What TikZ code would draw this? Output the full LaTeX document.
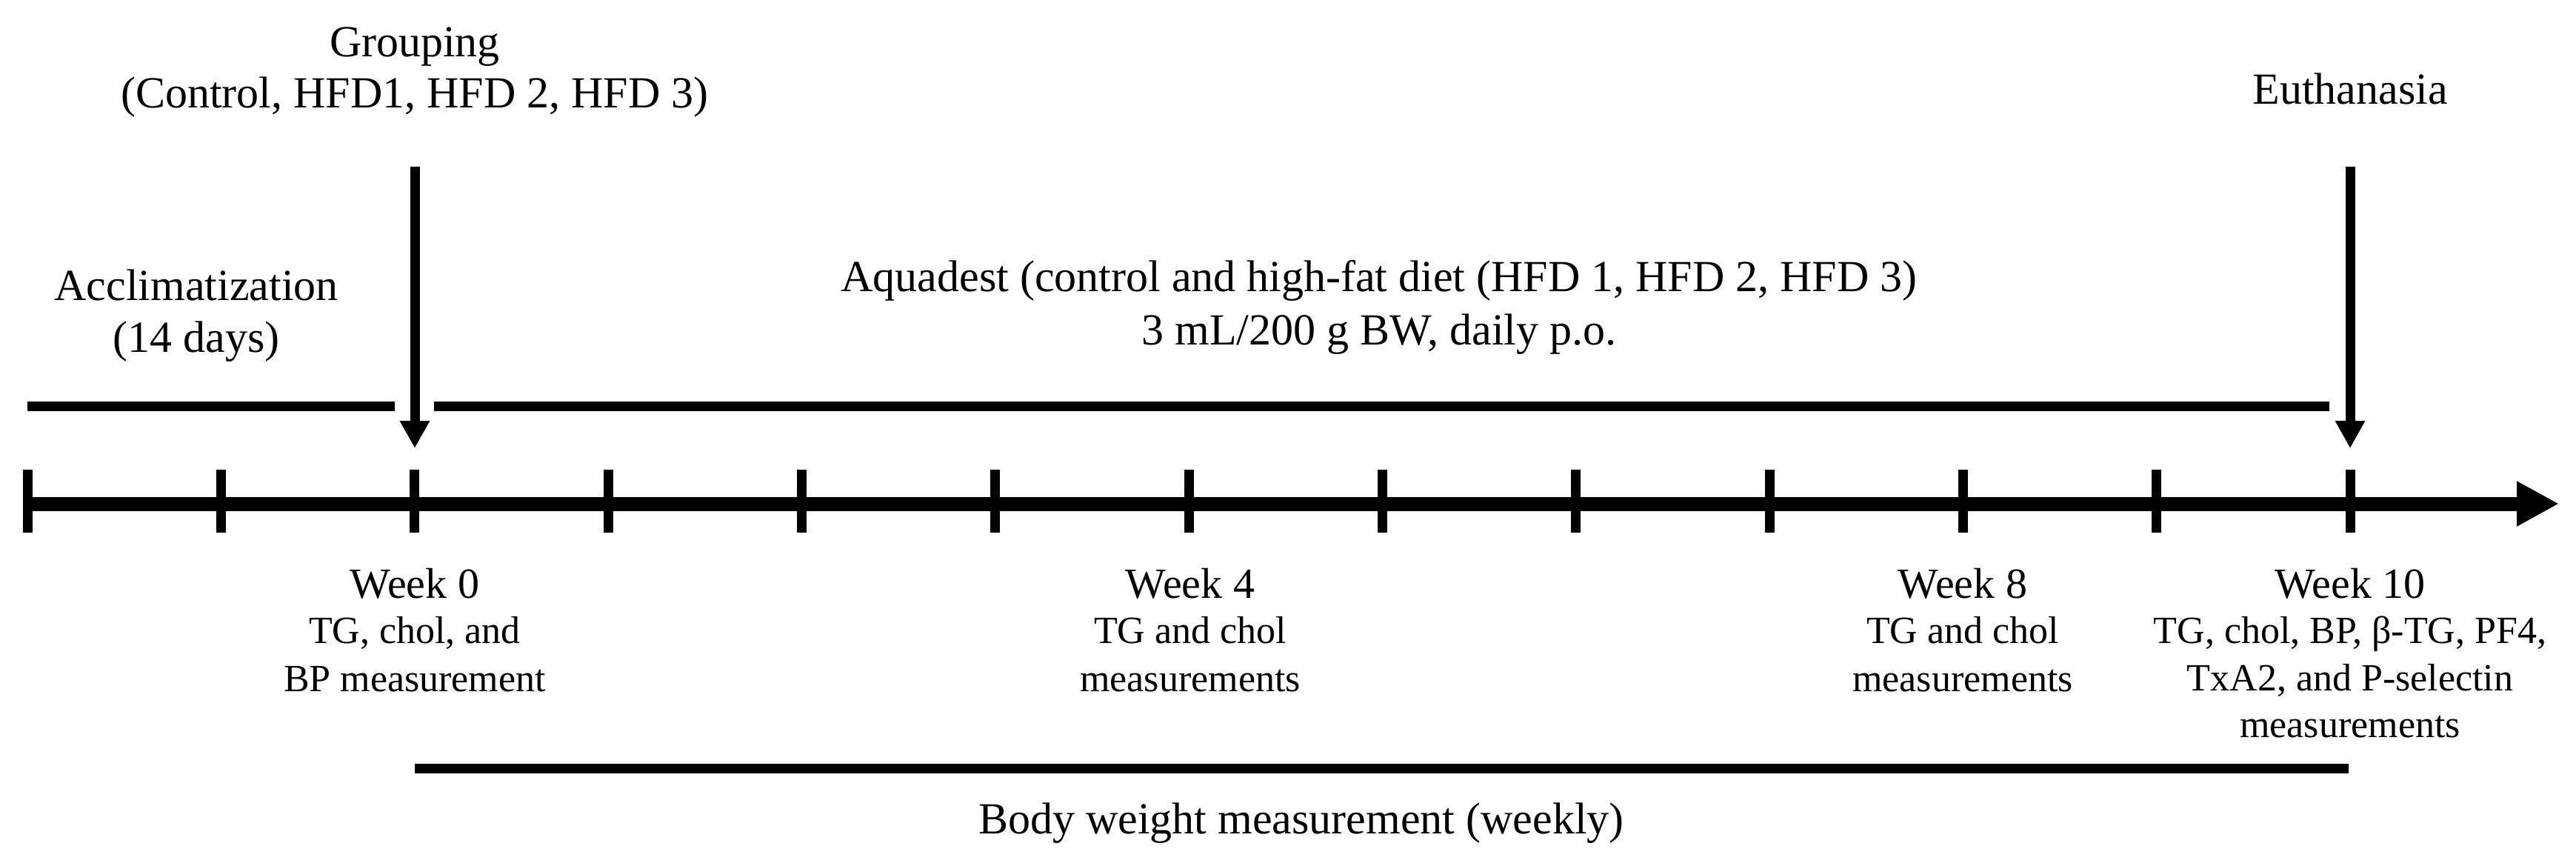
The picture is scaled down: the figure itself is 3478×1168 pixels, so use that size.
\documentclass[tikz,border=0pt]{standalone}
\usepackage{fontspec}
\setmainfont{Liberation Serif}
\usetikzlibrary{arrows.meta}
\begin{document}
\begin{tikzpicture}[x=0.25pt,y=-0.25pt,
  big/.style={font=\fontsize{15}{18}\selectfont, inner sep=0pt, anchor=base},
  wk/.style={font=\fontsize{14.5}{17}\selectfont, inner sep=0pt, anchor=base},
  small/.style={font=\fontsize{13}{15}\selectfont, inner sep=0pt, anchor=base},
  bar/.style={line width=3.25pt},
  tickmark/.style={line width=3.25pt},
  axisline/.style={line width=4.75pt, -{Triangle[length=14.25pt,width=14.25pt]}},
  downarrow/.style={line width=3.25pt, -{Triangle[length=9.25pt,width=9.5pt]}}]
\useasboundingbox (0,0) rectangle (3478,1168);

% axis
\coordinate (axL) at (37,680);
\coordinate (axR) at (3455,680);
\draw[axisline] (axL) -- (axR);
\foreach \k in {0,...,12}{
  \coordinate (t\k) at ({37+\k*261.33},680);
  \draw[tickmark] ([yshift=11.5pt]t\k) -- ([yshift=-9.75pt]t\k);
}

% phase bars
\coordinate (accL) at (37,548);
\coordinate (accR) at (533,548);
\coordinate (aqL) at (586,548);
\coordinate (aqR) at (3145,548);
\draw[bar] (accL) -- (accR);
\draw[bar] (aqL) -- (aqR);
\coordinate (bwL) at (560,1037);
\coordinate (bwR) at (3171,1037);
\draw[bar] (bwL) -- (bwR);

% event arrows
\coordinate (grpTop) at (560,225);
\coordinate (grpTip) at (560,605);
\coordinate (euTop) at (3173,225);
\coordinate (euTip) at (3173,605);
\draw[downarrow] (grpTop) -- (grpTip);
\draw[downarrow] (euTop) -- (euTip);

% top labels
\node[big] (grp1) at (560,76) {Grouping};
\node[big] (grp2) at (560,145) {(Control, HFD1, HFD 2, HFD 3)};
\node[big] (eu) at (3173,140) {Euthanasia};
\node[big] (acc1) at (265,405) {Acclimatization};
\node[big] (acc2) at (265,475) {(14 days)};
\node[big] (aq1) at (1862,393) {Aquadest (control and high-fat diet (HFD 1, HFD 2, HFD 3)};
\node[big] (aq2) at (1862,465) {3 mL/200 g BW, daily p.o.};

% week labels
\node[wk] (w0) at (560,807) {Week 0};
\node[small] (w0a) at (560,868) {TG, chol, and};
\node[small] (w0b) at (560,933) {BP measurement};

\node[wk] (w4) at (1607,807) {Week 4};
\node[small] (w4a) at (1607,868) {TG and chol};
\node[small] (w4b) at (1607,933) {measurements};

\node[wk] (w8) at (2650,807) {Week 8};
\node[small] (w8a) at (2650,868) {TG and chol};
\node[small] (w8b) at (2650,933) {measurements};

\node[wk] (w10) at (3173,807) {Week 10};
\node[small] (w10a) at (3173,868) {TG, chol, BP, β-TG, PF4,};
\node[small] (w10b) at (3173,932) {TxA2, and P-selectin};
\node[small] (w10c) at (3173,995) {measurements};

% bottom label
\node[big] (bw) at (1757,1125) {Body weight measurement (weekly)};
\end{tikzpicture}
\end{document}
